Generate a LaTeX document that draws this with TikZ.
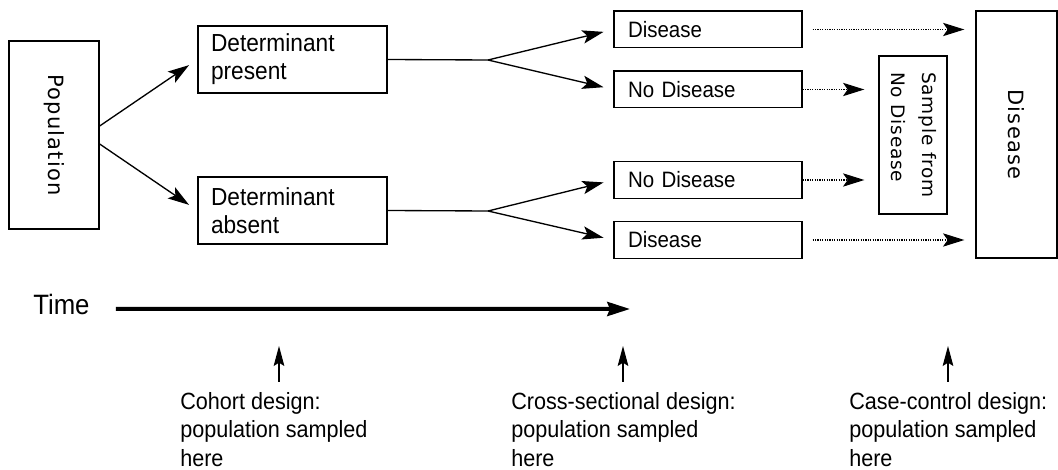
\documentclass[tikz,border=0pt]{standalone}
\usepackage{fontspec}
\usepackage{graphicx}
\setmainfont{Liberation Sans}
\newfontfamily\boxfont[FakeStretch=0.92]{Liberation Sans}
\newfontfamily\vertfont[LetterSpace=6]{DejaVu Sans}
\newfontfamily\samplefont[LetterSpace=4]{DejaVu Sans}
\usepackage{tikz}
\usetikzlibrary{arrows.meta, calc}

\begin{document}
\begin{tikzpicture}[x=0.75pt, y=-0.75pt,
    dbox/.style={draw, line width=1pt, text width=120pt, inner xsep=10.5pt, inner ysep=0pt,
      minimum height=27.5pt, align=left, font=\boxfont\fontsize{16.7}{20}\selectfont},
    detbox/.style={draw, line width=1pt, text width=122.25pt, inner xsep=9.75pt, inner ysep=0pt,
      minimum height=50.25pt, align=left, font=\boxfont\fontsize{18.5}{21}\selectfont},
    vbox/.style={draw, line width=1pt, inner sep=0pt, font=\vertfont\fontsize{15.75}{19}\selectfont},
    note/.style={inner sep=0pt, align=left, font=\boxfont\fontsize{17.6}{21.5}\selectfont},
    arrow/.style={line width=1pt, -{Stealth[length=16pt, width=10pt, inset=3.5pt]}},
    dotarrow/.style={line width=0.8pt, densely dotted, -{Stealth[length=16pt, width=10pt, inset=3.5pt]}},
    timearrow/.style={line width=3pt, -{Stealth[length=17pt, width=10.5pt, inset=2pt]}},
    uparrow/.style={line width=0.8pt, -{Stealth[length=15pt, width=8pt, inset=2.5pt]}}]
  \useasboundingbox (0,0) rectangle (1058,470);

  \node[vbox, minimum width=67.5pt, minimum height=141pt] (pop) at (54,135) {\rotatebox{-90}{Population}};
  \node[detbox] (detp) at (292.5,59.5) {Determinant\\present};
  \node[detbox] (deta) at (292.5,210.5) {Determinant\\absent};

  \node[dbox] (dis1) at (708,29.5) {Disease};
  \node[dbox] (nod1) at (708,89.5) {No Disease};
  \node[dbox] (nod2) at (708,180) {No Disease};
  \node[dbox] (dis2) at (708,240) {Disease};

  \node[vbox, minimum width=51pt, minimum height=118.5pt, font=\samplefont\fontsize{13.9}{23}\selectfont] (sample) at (913,135)
    {\rotatebox{-90}{\begin{tabular}{@{}l@{}}Sample from\\No Disease\end{tabular}}};
  \node[vbox, minimum width=60.75pt, minimum height=185.25pt] (dis) at (1016.5,134.5) {\rotatebox{-90}{Disease}};

  \coordinate (forkp) at (488,60);
  \coordinate (forka) at (488,211);

  \draw[arrow, shorten >=7.5pt] ([yshift=6.75pt]pop.east) -- (detp.west);
  \draw[arrow, shorten >=7.5pt] ([yshift=-6.75pt]pop.east) -- (deta.west);

  \draw[line width=1pt] (detp.east) -- (forkp);
  \draw[arrow, shorten >=7.5pt] (forkp) -- (dis1.west);
  \draw[arrow, shorten >=7.5pt] (forkp) -- (nod1.west);
  \draw[line width=1pt] (deta.east) -- (forka);
  \draw[arrow, shorten >=7.5pt] (forka) -- (nod2.west);
  \draw[arrow, shorten >=7.5pt] (forka) -- (dis2.west);

  \draw[dotarrow, shorten <=7.5pt, shorten >=8.25pt] (dis1.east) -- (dis.west |- dis1.east);
  \draw[dotarrow, shorten >=10.5pt] (nod1.east) -- (sample.west |- nod1.east);
  \draw[dotarrow, shorten >=10.5pt] (nod2.east) -- (sample.west |- nod2.east);
  \draw[dotarrow, shorten <=7.5pt, shorten >=8.25pt] (dis2.east) -- (dis.west |- dis2.east);

  % time line
  \node[inner sep=0pt, anchor=base west, font=\boxfont\fontsize{21}{24}\selectfont] (time) at (33,315) {Time};
  \coordinate (tend) at (630,309);
  \draw[timearrow] ($(time.east)+(19.5pt,-3pt)$) -- (tend);

  \node[note, anchor=north west] (cohort) at (180,392) {Cohort design:\\population sampled\\here};
  \node[note, anchor=north west] (cross) at (511,392) {Cross-sectional design:\\population sampled\\here};
  \node[note, anchor=north west] (case) at (849,392) {Case-control design:\\population sampled\\here};

  \coordinate (cohortup) at (279,346);
  \coordinate (crossup) at (623,346);
  \coordinate (caseup) at (948,346);
  \draw[uparrow] ($(cohortup |- cohort.north)+(0,7.5pt)$) -- (cohortup);
  \draw[uparrow] ($(crossup |- cross.north)+(0,7.5pt)$) -- (crossup);
  \draw[uparrow] ($(caseup |- case.north)+(0,7.5pt)$) -- (caseup);
\end{tikzpicture}
\end{document}
